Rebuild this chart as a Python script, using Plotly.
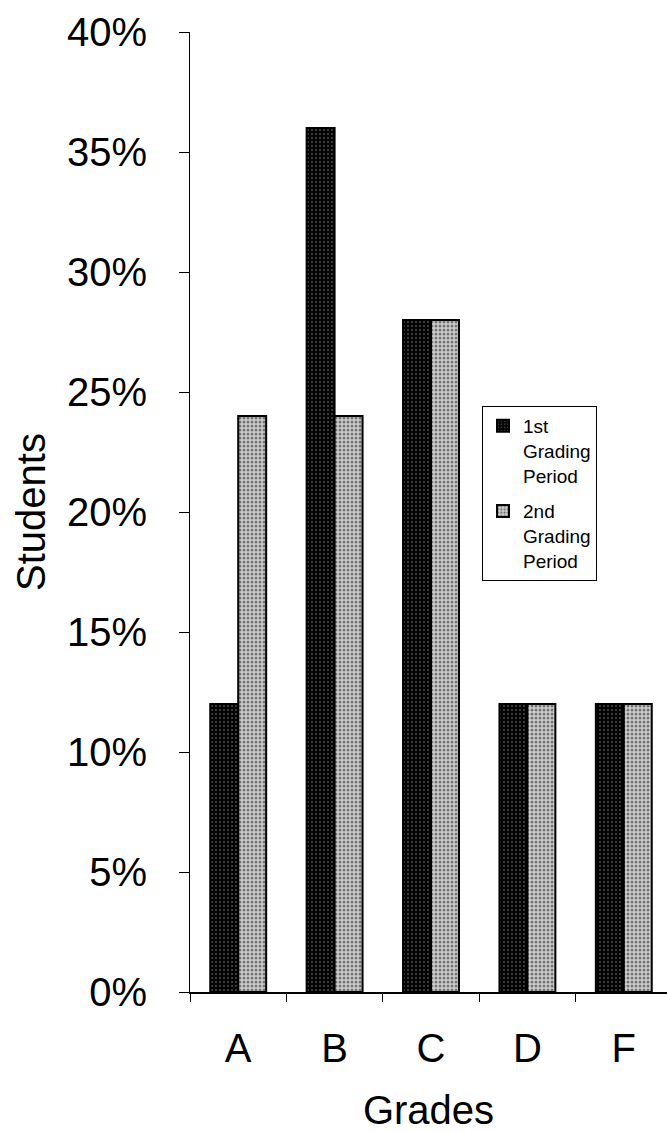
import plotly.graph_objects as go

grades = ["A", "B", "C", "D", "F"]
first_period = [12, 36, 28, 12, 12]
second_period = [24, 24, 28, 12, 12]
series_names = ["1st<br>Grading<br>Period", "2nd<br>Grading<br>Period"]
y_ticks = [0, 5, 10, 15, 20, 25, 30, 35, 40]
y_tick_text = [f"{v}%" for v in y_ticks]

FONT = "Liberation Sans, Arial, sans-serif"

W, H = 667, 1132
left, right, top, bottom = 190, 0, 32, 140
plot_w = W - left - right
cat_px = 96.4

fig = go.Figure()
fig.add_trace(go.Bar(
    x=grades, y=first_period, name=series_names[0], legendgroup="p1",
    marker=dict(
        color="#111111",
        line=dict(color="black", width=2),
        pattern=dict(shape=".", bgcolor="#050505", fgcolor="#ffffff",
                     size=4, solidity=0.12, fillmode="overlay"),
    ),
))
fig.add_trace(go.Bar(
    x=grades, y=second_period, name=series_names[1], legendgroup="p2",
    marker=dict(
        color="white",
        line=dict(color="black", width=2),
        pattern=dict(shape=".", bgcolor="#cfcfcf", fgcolor="#1a1a1a",
                     size=4, solidity=0.45, fillmode="overlay"),
    ),
))

fig.update_layout(
    width=W, height=H,
    margin=dict(l=left, r=right, t=top, b=bottom, pad=0),
    paper_bgcolor="white", plot_bgcolor="white",
    font=dict(family=FONT, color="black", size=40),
    barmode="group", bargap=0.42, bargroupgap=0,
    showlegend=True,
    legend=dict(
        x=(482 - left) / plot_w, y=(H - bottom - 406) / (H - top - bottom),
        xanchor="left", yanchor="top",
        bgcolor="white", bordercolor="black", borderwidth=1,
        font=dict(family=FONT, size=19, color="black"),
        valign="top", itemwidth=30,
        traceorder="grouped", tracegroupgap=8,
    ),
    xaxis=dict(
        range=[-0.5, -0.5 + plot_w / cat_px],
        showline=True, linecolor="black", linewidth=1.5,
        ticks="outside", tickson="boundaries", ticklen=8, tickcolor="black",
        tickfont=dict(size=40), showgrid=False,
        ticklabelstandoff=20,
        title=dict(text="Grades", font=dict(size=40), standoff=28),
    ),
    yaxis=dict(
        range=[0, 40], tickvals=y_ticks, ticktext=y_tick_text,
        showline=True, linecolor="black", linewidth=1,
        ticks="outside", ticklen=10, tickcolor="black",
        tickfont=dict(size=40), showgrid=False, zeroline=False,
        ticklabelstandoff=24,
        title=dict(text="Students", font=dict(size=40), standoff=8),
    ),
)

fig.write_html("out.html")
